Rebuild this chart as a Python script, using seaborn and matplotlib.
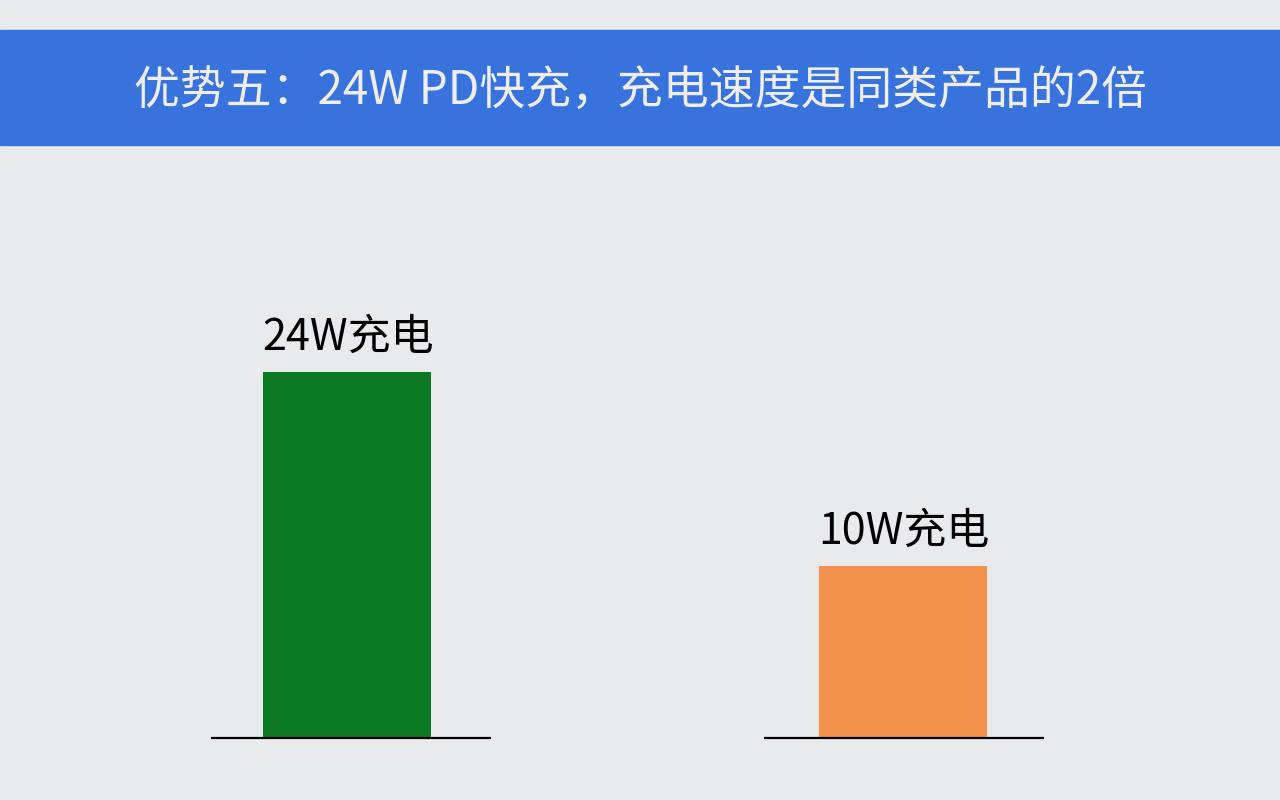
import matplotlib
matplotlib.use("Agg")
import matplotlib.pyplot as plt
import seaborn as sns
import pandas as pd
from matplotlib.patches import Rectangle

# chart data
chargers = ["24W充电", "10W充电"]
charge_speed = [2.13, 1.0]   # relative speed
bar_colors = ["#0c7a25", "#f2924c"]
title_text = "优势五：24W PD快充，充电速度是同类产品的2倍"

sns.set_theme(style="white")
plt.rcParams["font.family"] = ["Noto Sans CJK SC", "DejaVu Sans"]

bg = "#e9eaec"
fig = plt.figure(figsize=(12.8, 8), dpi=100, facecolor=bg)

# blue banner on top
fig.patches.append(Rectangle((0, 1 - 145 / 800), 1, 115 / 800,
                             transform=fig.transFigure, color="#3873dd", zorder=0))
fig.text(0.5, 1 - 91 / 800, title_text, ha="center", va="center",
         fontsize=33, color="#eeeeee")

# axes laid out so category centres land at ~347px and ~903px
ax = fig.add_axes([69 / 1280, 62 / 800, 1112 / 1280, 500 / 800])
ax.set_facecolor(bg)
df = pd.DataFrame({"charger": chargers, "speed": charge_speed})
sns.barplot(data=df, x="charger", y="speed", hue="charger", palette=bar_colors,
            width=0.302, legend=False, ax=ax, saturation=1, linewidth=0)

ax.set_xlim(-0.5, 1.5)
ax.set_ylim(0, charge_speed[0] * 500 / 366)

# the base lines sit a touch right of each bar in the original
base_shift = [0.007, 0.002]
for i, (name, val) in enumerate(zip(chargers, charge_speed)):
    ax.hlines(0, i - 0.252 + base_shift[i], i + 0.252 + base_shift[i],
              color="black", lw=1.6, clip_on=False, zorder=5)
    ax.annotate(name, (i, val), xytext=(1, 12), textcoords="offset pixels",
                ha="center", va="bottom", fontsize=31, color="black")

ax.set_axis_off()

fig.savefig("out.png", dpi=100, facecolor=bg)
